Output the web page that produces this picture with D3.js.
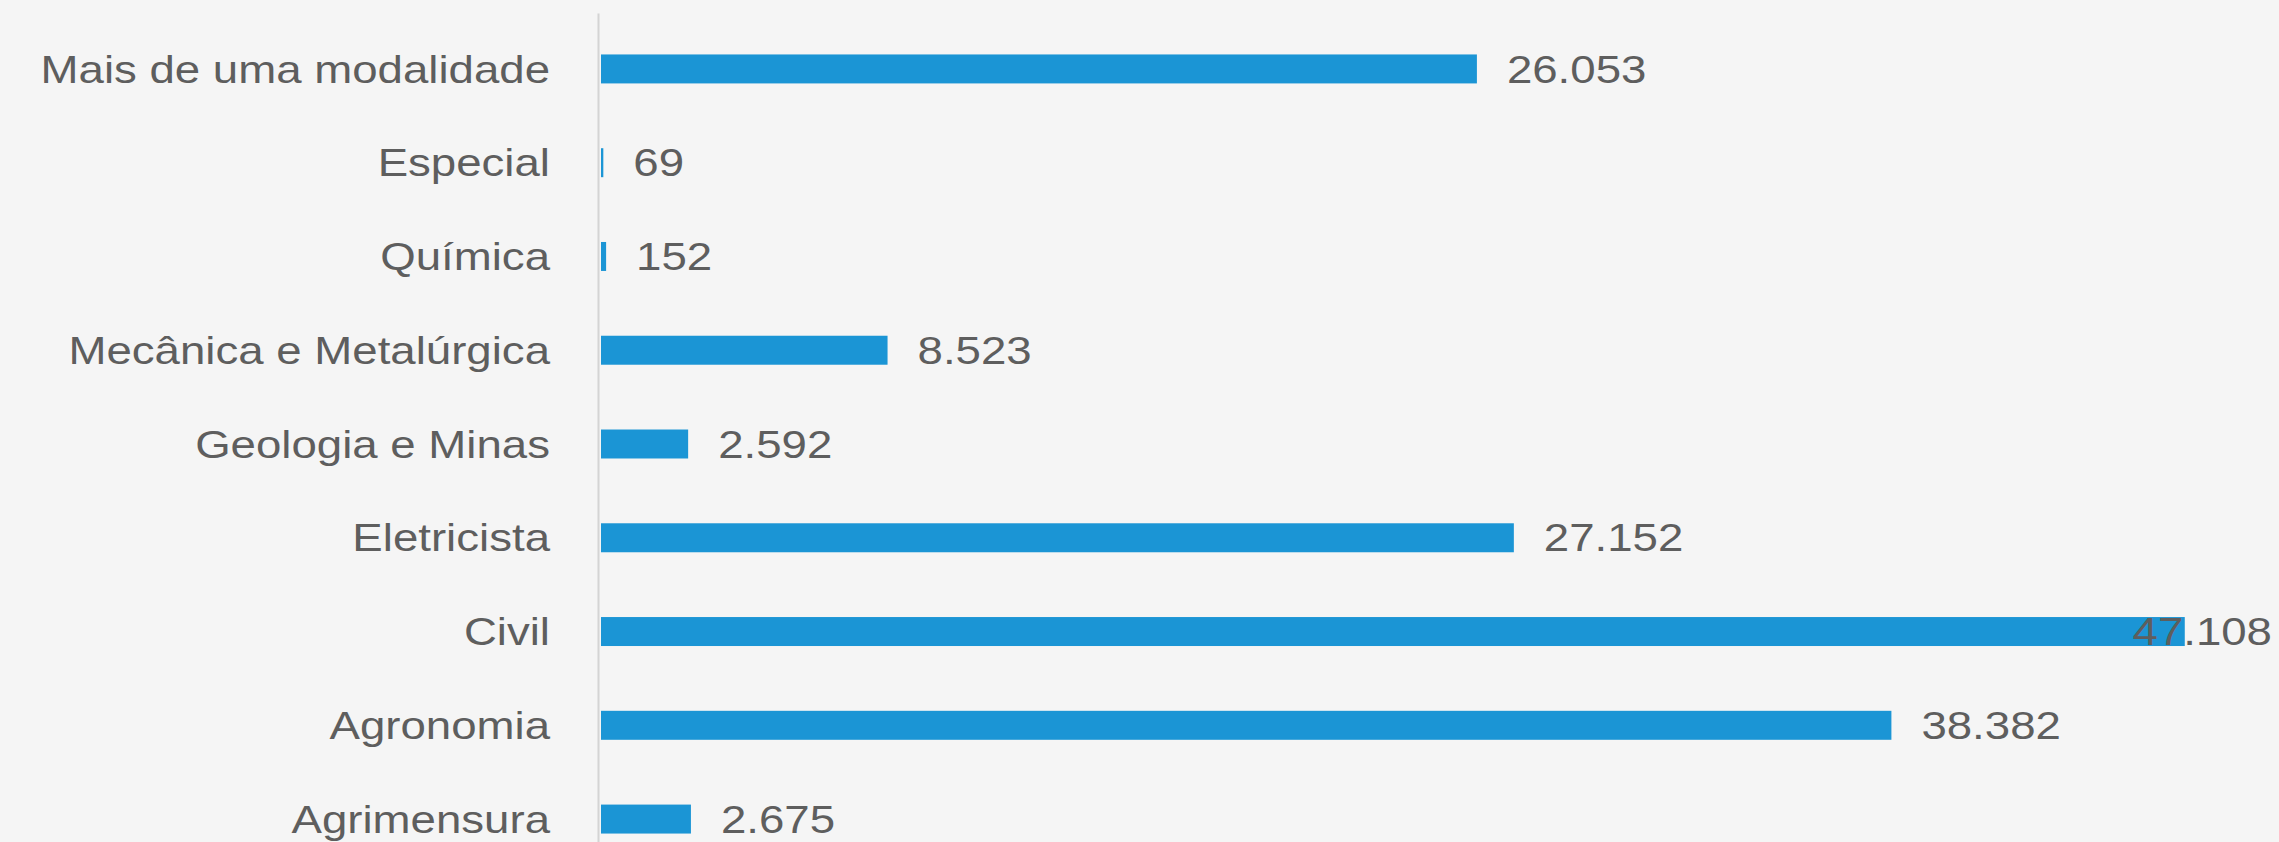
<!DOCTYPE html>
<html>
<head>
<meta charset="utf-8">
<script src="https://cdn.jsdelivr.net/npm/d3@7"></script>
<style>
  html, body { margin: 0; padding: 0; background: #f5f5f5; }
  svg { display: block; }
</style>
</head>
<body>
<svg id="chart" width="2279" height="842"></svg>
<script>
// ---- data ----
const categories = [
  "Mais de uma modalidade",
  "Especial",
  "Química",
  "Mecânica e Metalúrgica",
  "Geologia e Minas",
  "Eletricista",
  "Civil",
  "Agronomia",
  "Agrimensura"
];
const values = [26053, 69, 152, 8523, 2592, 27152, 47108, 38382, 2675];
const xDomainMax = 50000;

// ---- layout / style ----
const W = 2279, H = 842;
const axisX = 598;
const barStart = 601;
const rightLimit = 2272;
const fontFamily = "'Liberation Sans', Arial, sans-serif";
const fontSize = 38;
const stretch = 1.2;
const textColor = "#5e5e5e";
const barColor = "#1b95d5";
const labelGap = 30;
const catPad = 48;

const fmt = d3.formatLocale({decimal: ",", thousands: ".", grouping: [3], currency: ["R$", ""]}).format(",d");

const svg = d3.select("#chart");
svg.append("rect").attr("width", W).attr("height", H).attr("fill", "#f5f5f5");

const y = d3.scaleBand()
  .domain(categories)
  .range([13, 875])
  .paddingInner(0.691)
  .paddingOuter(0.442);

const x = d3.scaleLinear()
  .domain([0, xDomainMax])
  .range([barStart, barStart + 1681]);

const data = categories.map((c, i) => ({cat: c, val: values[i]}));

// bars
svg.append("g").selectAll("rect")
  .data(data)
  .join("rect")
  .attr("x", x(0))
  .attr("y", d => y(d.cat))
  .attr("width", d => Math.max(0, x(d.val) - x(0)))
  .attr("height", y.bandwidth())
  .attr("fill", barColor);

// axis (category)
const axis = svg.append("g")
  .attr("transform", `translate(${axisX},0)`)
  .call(d3.axisLeft(y).tickSize(0).tickPadding(catPad));
axis.select(".domain").attr("stroke", "#d4d4d4").attr("stroke-width", 2);
axis.selectAll(".tick text")
  .attr("x", 0)
  .attr("dy", null)
  .attr("transform", `translate(${-catPad},${fontSize * 0.36}) scale(${stretch},1)`)
  .attr("fill", textColor)
  .style("font-family", fontFamily)
  .style("font-size", fontSize + "px");

// value labels
const labels = svg.append("g").selectAll("text")
  .data(data)
  .join("text")
  .text(d => fmt(d.val))
  .attr("fill", textColor)
  .style("font-family", fontFamily)
  .style("font-size", fontSize + "px")
  .attr("text-anchor", "start");

labels.each(function(d) {
  const w = this.getComputedTextLength() * stretch;
  const lx = Math.min(x(d.val) + labelGap, rightLimit - w);
  const ly = y(d.cat) + y.bandwidth() / 2 + fontSize * 0.36;
  d3.select(this).attr("transform", `translate(${lx},${ly}) scale(${stretch},1)`);
});
</script>
</body>
</html>
